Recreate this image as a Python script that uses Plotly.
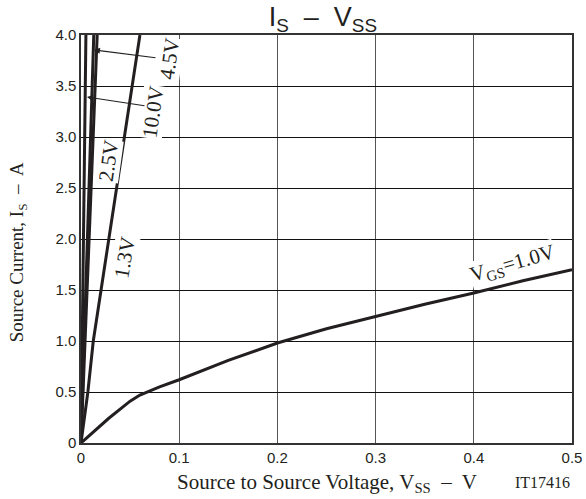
import plotly.graph_objects as go

# Data
vgs_10_x = [0, 0.005]
vgs_10_y = [0, 4.0]
vgs_45_x = [0, 0.013]
vgs_45_y = [0, 4.0]
vgs_25_x = [0, 0.0165]
vgs_25_y = [0, 4.0]
vgs_13_x = [0, 0.007, 0.0125, 0.036, 0.060]
vgs_13_y = [0, 0.5, 1.0, 2.5, 4.0]
vgs_10v_x = [0, 0.028, 0.05, 0.06, 0.08, 0.1, 0.15, 0.2, 0.25, 0.3, 0.35, 0.4, 0.45, 0.5]
vgs_10v_y = [0, 0.24, 0.41, 0.47, 0.55, 0.62, 0.81, 0.98, 1.12, 1.24, 1.36, 1.47, 1.59, 1.70]

x_ticks = [0, 0.1, 0.2, 0.3, 0.4, 0.5]
x_tick_labels = ["0", "0.1", "0.2", "0.3", "0.4", "0.5"]
y_ticks = [0, 0.5, 1.0, 1.5, 2.0, 2.5, 3.0, 3.5, 4.0]
y_tick_labels = ["0", "0.5", "1.0", "1.5", "2.0", "2.5", "3.0", "3.5", "4.0"]

LINE = "#231f20"
SERIF = "Liberation Serif, Times New Roman, serif"
SANS = "Liberation Sans, Arial, sans-serif"

fig = go.Figure()
for xs, ys in [(vgs_10_x, vgs_10_y), (vgs_45_x, vgs_45_y), (vgs_25_x, vgs_25_y),
               (vgs_13_x, vgs_13_y), (vgs_10v_x, vgs_10v_y)]:
    fig.add_trace(go.Scatter(x=xs, y=ys, mode="lines",
                             line=dict(color=LINE, width=3), showlegend=False,
                             hoverinfo="skip"))

lab_font = dict(family=SERIF, size=21, color=LINE)
annos = [
    dict(x=0.0906, y=3.77, text="4.5V", textangle=-82),
    dict(x=0.0733, y=3.245, text="10.0V", textangle=-82),
    dict(x=0.0285, y=2.77, text="2.5V", textangle=-82),
    dict(x=0.0448, y=1.82, text="1.3V", textangle=-80),
    dict(x=0.439, y=1.755, text="V<sub>GS</sub>=1.0V", textangle=-16),
]
for a in annos:
    fig.add_annotation(xref="x", yref="y", showarrow=False, font=lab_font,
                       bgcolor="white", borderpad=0, **a)

# arrows
for (tx, ty, hx, hy) in [(0.0774, 3.775, 0.0132, 3.853), (0.0662, 3.304, 0.0061, 3.392)]:
    fig.add_annotation(xref="x", yref="y", axref="x", ayref="y", x=hx, y=hy,
                       ax=tx, ay=ty, text="", showarrow=True, arrowhead=2,
                       arrowsize=1, arrowwidth=1.2, arrowcolor=LINE, standoff=0)

# axis titles and figure id
fig.add_annotation(xref="paper", yref="paper", x=0.501, y=-0.099,
                   text="Source to Source Voltage, V<sub>SS</sub>  –  V",
                   showarrow=False, font=dict(family=SERIF, size=21, color=LINE),
                   xanchor="center", yanchor="middle")
fig.add_annotation(xref="paper", yref="paper", x=-0.128, y=0.468,
                   text="Source Current, I<sub>S</sub>  –  A", textangle=-90,
                   showarrow=False, font=dict(family=SERIF, size=19, color=LINE),
                   xanchor="center", yanchor="middle")
fig.add_annotation(xref="paper", yref="paper", x=1.0, y=-0.097, text="IT17416",
                   showarrow=False, font=dict(family=SERIF, size=16, color=LINE),
                   xanchor="right", yanchor="middle")

fig.update_layout(
    width=586, height=499,
    margin=dict(l=81, r=14, t=35, b=56, autoexpand=False),
    paper_bgcolor="white", plot_bgcolor="white",
    title=dict(text="I<sub>S</sub>  –  V<sub>SS</sub>", xref="container", x=0.551,
               xanchor="center", y=0.966, yanchor="middle",
               font=dict(family=SANS, size=27, color=LINE)),
    xaxis=dict(range=[0, 0.5], tickvals=x_ticks, ticktext=x_tick_labels,
               showgrid=True, gridcolor="#555", gridwidth=1,
               showline=True, linecolor="#333", linewidth=1.5, mirror=True,
               ticks="", zeroline=False, automargin=False,
               tickfont=dict(family=SANS, size=15, color=LINE)),
    yaxis=dict(range=[0, 4.0], tickvals=y_ticks, ticktext=y_tick_labels,
               showgrid=True, gridcolor="#111", gridwidth=1,
               showline=True, linecolor="#333", linewidth=1.5, mirror=True,
               ticks="", zeroline=False, automargin=False,
               tickfont=dict(family=SANS, size=15, color=LINE)),
)

fig.write_html("out.html")
